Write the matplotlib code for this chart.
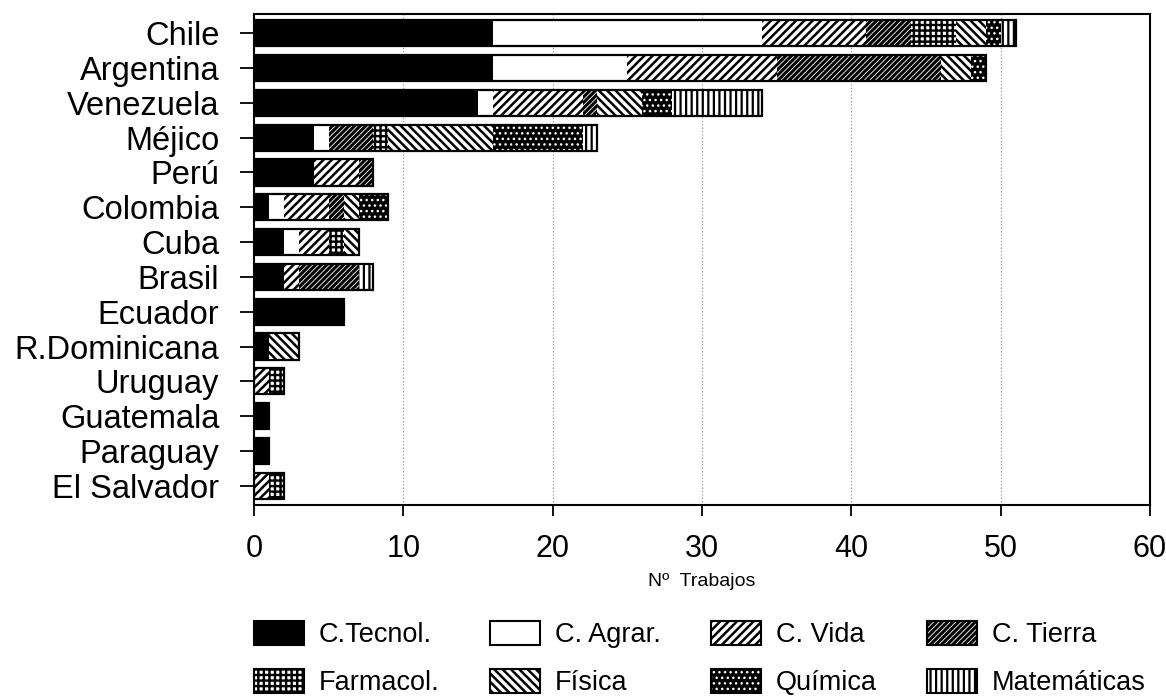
import matplotlib
matplotlib.use("Agg")
import matplotlib.pyplot as plt
from matplotlib.patches import Patch
from matplotlib.legend_handler import HandlerPatch, HandlerTuple
import numpy as np

countries = ['Chile', 'Argentina', 'Venezuela', 'Méjico', 'Perú', 'Colombia', 'Cuba',
             'Brasil', 'Ecuador', 'R.Dominicana', 'Uruguay', 'Guatemala', 'Paraguay',
             'El Salvador']
c_tecnol = [16, 16, 15, 4, 4, 1, 2, 2, 6, 1, 0, 1, 1, 0]
c_agrar  = [18, 9, 1, 1, 0, 1, 1, 0, 0, 0, 0, 0, 0, 0]
c_vida   = [7, 10, 6, 0, 3, 3, 2, 1, 0, 0, 1, 0, 0, 1]
c_tierra = [3, 11, 1, 3, 1, 1, 0, 4, 0, 0, 0, 0, 0, 0]
farmacol = [3, 0, 0, 1, 0, 0, 1, 0, 0, 0, 1, 0, 0, 1]
fisica   = [2, 2, 3, 7, 0, 1, 1, 0, 0, 2, 0, 0, 0, 0]
quimica  = [1, 1, 2, 6, 0, 2, 0, 0, 0, 0, 0, 0, 0, 0]
matemat  = [1, 0, 6, 1, 0, 0, 0, 1, 0, 0, 0, 0, 0, 0]

series_names = ['C.Tecnol.', 'C. Agrar.', 'C. Vida', 'C. Tierra',
                'Farmacol.', 'Física', 'Química', 'Matemáticas']
series = [c_tecnol, c_agrar, c_vida, c_tierra, farmacol, fisica, quimica, matemat]

# style: (facecolor, hatchcolor, hatch, hatch linewidth)
styles = [
    ('black', 'black', None, 1.0),
    ('white', 'black', None, 1.0),
    ('white', 'black', '////', 1.8),
    ('black', 'white', '//////', 0.6),
    ('white', 'black', '+++', 1.7),
    ('white', 'black', '\\\\\\\\', 1.8),
    ('black', 'white', '...', 1.0),
    ('white', 'black', '|||', 1.6),
]

plt.rcParams['font.family'] = ['Liberation Sans', 'DejaVu Sans']


def with_hatch_lw(artist, lw):
    orig = artist.draw

    def draw(renderer, *args, **kwargs):
        with plt.rc_context({'hatch.linewidth': lw}):
            return orig(renderer, *args, **kwargs)
    artist.draw = draw
    if hasattr(artist, 'set_hatch_linewidth'):
        artist.set_hatch_linewidth(lw)
    return artist


fig = plt.figure(figsize=(11.66, 7.0), dpi=100)
ax = fig.add_axes([254 / 1166, 1 - 505 / 700, (1150 - 254) / 1166, (505 - 14) / 700])

y = np.arange(len(countries))
left = np.zeros(len(countries))

for vals, (fc, hc, h, hlw) in zip(series, styles):
    vals = np.array(vals, dtype=float)
    bars = ax.barh(y, vals, left=left, height=0.75, color=fc, edgecolor=hc,
                   linewidth=0, hatch=h, zorder=2)
    for b in bars:
        with_hatch_lw(b, hlw)
    left = left + vals

ax.barh(y, left, height=0.75, fill=False, edgecolor='black', linewidth=1.6, zorder=3)

ax.set_xlim(0, 60)
ax.set_ylim(len(countries) - 0.45, -0.55)
ax.set_yticks(y)
ax.set_yticklabels(countries, fontsize=23.5)
ax.set_xticks(np.arange(0, 61, 10))
ax.tick_params(axis='x', labelsize=22, length=8, width=1.3, pad=13, direction='out')
ax.tick_params(axis='y', length=10, width=1.3, pad=15, direction='out')
for s in ax.spines.values():
    s.set_linewidth(1.5)
ax.grid(axis='x', linestyle=(0, (1, 2)), color='#888888', linewidth=0.8, zorder=0)
ax.set_axisbelow(True)
ax.set_xlabel('Nº  Trabajos', fontsize=14, labelpad=6)


class LwHandler(HandlerPatch):
    def __init__(self, lw, **kw):
        super().__init__(**kw)
        self.lw = lw

    def create_artists(self, legend, orig_handle, xdescent, ydescent, width, height,
                       fontsize, trans):
        arts = super().create_artists(legend, orig_handle, xdescent, ydescent, width,
                                      height, fontsize, trans)
        for a in arts:
            with_hatch_lw(a, self.lw)
        return arts


handles = []
handler_map = {}
for name, (fc, hc, h, hlw) in zip(series_names, styles):
    p = Patch(facecolor=fc, edgecolor=hc, hatch=h, linewidth=0)
    o = Patch(facecolor='none', edgecolor='black', linewidth=1.5)
    handler_map[p] = LwHandler(hlw)
    handles.append((p, o))

order = [0, 4, 1, 5, 2, 6, 3, 7]
handler_map[tuple] = HandlerTuple(ndivide=1)
leg = fig.legend([handles[i] for i in order], [series_names[i] for i in order],
                 ncol=4, loc='upper left', bbox_to_anchor=(254 / 1166, 1 - 621 / 700),
                 frameon=False, fontsize=19.5, handlelength=1.85, handleheight=1.0,
                 handletextpad=0.55, columnspacing=1.85, labelspacing=0.75,
                 borderpad=0, borderaxespad=0, handler_map=handler_map)

fig.savefig('out.png', dpi=100)
